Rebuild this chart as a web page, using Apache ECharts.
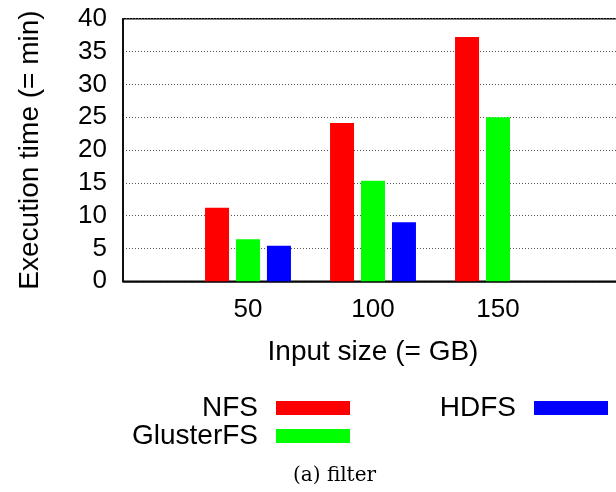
<!DOCTYPE html>
<html>
<head>
<meta charset="utf-8">
<script src="https://cdn.jsdelivr.net/npm/echarts@6/dist/echarts.min.js"></script>
<style>
  html, body { margin: 0; padding: 0; background: #fff; }
  #chart { width: 616px; height: 492px; }
</style>
</head>
<body>
<div id="chart"></div>
<script>
// Input sizes (GB) shown on the x axis
const categories = ['50', '100', '150'];
// Execution time in minutes per file system
const nfsTimes = [11.2, 24.1, 37.2];
const glusterTimes = [6.4, 15.3, 25.0];
const hdfsTimes = [5.4, 9.0, null];
// y tick range
const yMin = 0, yMax = 40, yStep = 5;

const FONT = "'Liberation Sans', Arial, Helvetica, sans-serif";
const TICK_FS = 26;
const TEXT_FS = 28;

// Pad an empty slot on each side so the three groups sit at 1, 2, 3 of a 0..4 span
const axisCats = [''].concat(categories, ['']);
const pad = arr => [null].concat(arr, [null]);

const chart = echarts.init(document.getElementById('chart'), null, { renderer: 'canvas' });

const barBase = {
  type: 'bar',
  barWidth: 24,
  barGap: '29%'
};

const legendText = { fontFamily: FONT, fontSize: TEXT_FS, color: '#000', padding: [0, 13, 0, 0] };

chart.setOption({
  animation: false,
  backgroundColor: '#fff',
  title: {
    text: '(a) filter',
    left: 293,
    top: 466,
    padding: 0,
    textStyle: {
      fontFamily: "'DejaVu Serif', 'Liberation Serif', serif",
      fontWeight: 'normal',
      fontSize: 20,
      color: '#000'
    }
  },
  grid: {
    left: 123,
    top: 18.7,
    width: 500,
    height: 262.6,
    outerBoundsMode: 'none',
    containLabel: false,
    show: true,
    borderColor: '#000',
    borderWidth: 1.5,
    backgroundColor: 'transparent'
  },
  legend: [
    {
      data: ['NFS', 'GlusterFS'],
      orient: 'vertical',
      align: 'right',
      right: 266,
      top: 394,
      padding: 0,
      itemGap: 0,
      itemWidth: 74,
      itemHeight: 14,
      icon: 'rect',
      textStyle: legendText
    },
    {
      data: ['HDFS'],
      orient: 'vertical',
      align: 'right',
      right: 8,
      top: 394,
      padding: 0,
      itemWidth: 74,
      itemHeight: 14,
      icon: 'rect',
      textStyle: legendText
    }
  ],
  xAxis: {
    type: 'category',
    data: axisCats,
    boundaryGap: false,
    name: 'Input size (= GB)',
    nameLocation: 'middle',
    nameGap: 57,
    nameTextStyle: { fontFamily: FONT, fontSize: TEXT_FS, color: '#000' },
    axisLine: { lineStyle: { color: '#000', width: 1.5 } },
    axisTick: { show: false },
    splitLine: { show: false },
    axisLabel: {
      interval: 0,
      margin: 16,
      fontFamily: FONT,
      fontSize: TICK_FS,
      color: '#000'
    }
  },
  yAxis: {
    type: 'value',
    min: yMin,
    max: yMax,
    interval: yStep,
    name: 'Execution time (= min)',
    nameLocation: 'middle',
    nameGap: 79,
    nameTextStyle: { fontFamily: FONT, fontSize: TEXT_FS, color: '#000' },
    axisLine: { show: true, lineStyle: { color: '#000', width: 1.5 } },
    axisTick: { show: false },
    axisLabel: {
      margin: 16,
      fontFamily: FONT,
      fontSize: TICK_FS,
      color: '#000'
    },
    splitLine: {
      show: true,
      lineStyle: { color: '#555', width: 1, type: [1, 2] }
    }
  },
  series: [
    Object.assign({}, barBase, { name: 'NFS', data: pad(nfsTimes), itemStyle: { color: '#ff0000' } }),
    Object.assign({}, barBase, { name: 'GlusterFS', data: pad(glusterTimes), itemStyle: { color: '#00ff00' } }),
    Object.assign({}, barBase, { name: 'HDFS', data: pad(hdfsTimes), itemStyle: { color: '#0000ff' } })
  ]
});
</script>
</body>
</html>
